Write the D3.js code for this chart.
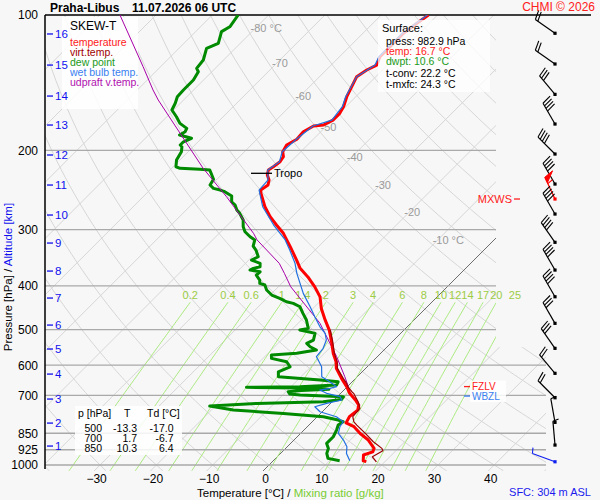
<!doctype html>
<html lang="en">
<head>
<meta charset="utf-8">
<title>skew-T Praha-Libus</title>
<script src="https://cdn.jsdelivr.net/npm/d3@7"></script>
<style>
  body{margin:0;background:#f7f7f7;}
  text{font-family:"Liberation Sans",Arial,sans-serif;}
</style>
</head>
<body>
<div id="chart"></div>
<script>
// axis levels
var pLevels = [100,200,300,400,500,600,700,850,925,1000];
var altKm = [1,2,3,4,5,6,7,8,9,10,11,12,13,14,15,16];
var altP = [907.6,807,713.6,628,552.4,488.7,425.6,370.7,321.2,278.3,238.7,204.7,175.6,151.4,129.2,110.2];
var tTicks = [-30,-20,-10,0,10,20,30,40];
var isoLabT = [-80,-70,-60,-50,-40,-30,-20,-10];
var isoLabP = [106.9,127.8,151.4,177.4,206.8,238.7,274.1,316.3];
var mixRatios = [0.2,0.4,0.6,1,1.4,2,3,4,6,8,10,12,14,17,20,25];

// temperature
var tempP = [100,104.3,109.8,117.6,123.8,129.2,132.5,137.1,144.3,151.9,159.9,165.4,171.2,175.6,176.5,181.7,188.9,194.5,201.3,206.5,211.9,217.4,221.1,226.8,232.7,238.7,244.9,249,266.7,280.7,292.9,305.6,327.3,350.4,365.6,382,402,423,449,476,501,528,565,590,610,642,670,693,717,736,755,781,806,822,851,880,918,935,950,979,983];
var tempT = [-51.6,-52.2,-52.8,-52.8,-52.8,-51.9,-52.8,-53.4,-52.5,-51.6,-50.4,-49.9,-49.9,-50.7,-52.3,-53.1,-52.9,-53.7,-53.2,-52.2,-51.9,-52.2,-52.5,-51.8,-50.6,-49.9,-50.3,-49.7,-46.6,-43.9,-41.3,-38.6,-35.0,-31.5,-29.4,-26.5,-23.5,-20.8,-18.5,-15.8,-13.3,-11.1,-8.4,-6.4,-5.2,-2.5,-0.1,1.6,3.8,5.3,6.0,5.7,6.2,8.3,10.6,13.2,15.7,16.1,15.0,16.0,16.7];

// virtual temperature
var virtP = [501,528,565,590,610,642,658.6,670,687.4,693,723.6,748.5,781,801.6,815.2,850.7,887.9,918.5,929.8,958.7,983.6];
var virtT = [-13.1,-10.9,-8.2,-6.2,-5.0,-2.2,-0.7,0.1,1.7,2.3,4.6,6.1,6.3,7.4,8.5,11.5,14.4,17.1,17.7,16.9,18.5];

// dew point
var dewP = [100,106.2,108.9,115.6,118.6,125.9,131.4,133.7,139.5,146.8,151.9,157.1,162.6,168.3,174.1,178.6,181.7,184.8,187.9,191.3,194.5,196.2,201.3,210,217.4,219.1,220.3,221.1,231.8,238.7,242.8,244.9,247,252.5,260,264.4,271.3,275.9,285.5,295.5,303.1,311,316.1,326.2,332.9,344.5,350.4,356.3,362.6,365.6,368.8,372,378.3,388.1,394.8,398.2,408.5,419.1,426.2,433.7,437.3,445,460.3,476.3,497,501.3,505.7,509.9,527.7,536.7,546,555.3,564.8,569.7,579.4,589.6,605,620.6,636.7,647.5,653.2,664.3,670.1,672.1,675.6,679,683,687.4,695.6,699.1,705.2,714.8,723.6,729.6,739.7,755,767.9,781.3,794.6,801.6,815.2,836.3,865.4,895.3,918.5,942.3,966.7,978.6];
var dewT = [-85.4,-84.8,-85.4,-83.9,-85.1,-83.6,-83.3,-82.4,-81.8,-81.8,-81.7,-80.9,-80.3,-78.3,-76.5,-74.4,-74.1,-74.5,-71.8,-72.6,-72.6,-72.0,-71.2,-70.6,-69.5,-68.5,-64.8,-62.9,-60.6,-60.2,-59.0,-57.5,-56.4,-54.4,-53.4,-52.2,-51.0,-49.9,-48.1,-46.9,-45.7,-43.9,-42.5,-41.7,-40.5,-38.9,-39.5,-37.4,-36.8,-37.7,-38.0,-35.9,-36.0,-34.5,-33.9,-32.7,-31.5,-29.7,-27.7,-25.9,-24.4,-22.6,-20.9,-19.1,-17.3,-18.5,-16.7,-15.2,-14.3,-14.9,-13.7,-12.0,-14.9,-19.1,-18.5,-15.2,-13.7,-14.9,-14.0,-6.0,-2.5,-2.2,-8.4,-17.8,-4.0,-2.8,-7.5,-9.6,-8.9,-6.9,1.1,1.2,-1.6,-13.1,-21.0,-16.1,-6.6,1.1,4.3,5.5,5.2,5.8,6.4,6.4,7.6,8.2,9.3,11.8];

// wet bulb temperature
var wetP = [100,109.8,123.8,129.2,137.1,151.9,159.9,171.2,176.5,188.9,201.3,211.9,221.1,232.7,244.9,266.7,292.9,316.1,332.9,356.3,375,415.5,445,468.3,493,510,527.7,550.5,574.7,584.5,605,636.7,653,670,675.6,681.5,693,705,717,729.6,742.4,761.6,781.3,801.6,822.3,850.7,880.3,910.9,942.3,978.6];
var wetT = [-51.8,-53.0,-53.0,-52.2,-53.4,-51.8,-50.6,-50.1,-52.4,-53.0,-53.3,-52.0,-52.6,-50.8,-50.6,-47.0,-41.8,-37.1,-34.5,-31.2,-29.1,-24.4,-20.8,-18.2,-15.5,-13.4,-12.0,-11.1,-10.8,-9.9,-8.1,-6.3,-4.0,-1.9,-2.8,-4.3,-2.5,0.5,1.4,-0.7,-2.2,-0.4,3.4,5.5,5.8,6.7,8.8,10.6,11.7,13.6];

// updraft virtual temperature
var parcelP = [100,130.3,146.8,154.5,183.2,219.1,253.4,305.6,316.1,356.3,375.1,401.7,484.4,574.7,636.7,670.1,690];
var parcelT = [-106.4,-93.1,-87.2,-84.5,-74.7,-64.4,-55.2,-43.9,-42.1,-34.0,-31.3,-27.8,-16.1,-7.2,-2.2,0.2,1.5];

// wind
var windP = [109.8,128.5,150.1,174.7,203.7,237.5,256.4,276.9,320,368.8,422.8,484.4,550.5,625.6,708.9,804,903,983.6];
var windDir = [305,305,320,330,315,330,335,330,325,330,330,330,325,320,315,350,355,290];
var windSpd = [20,20,30,40,40,40,55,40,40,40,40,30,30,20,20,5,5,5];

// table
var tabP = [500,700,850];
var tabT = [-13.3,1.7,10.3];
var tabTd = [-17.0,-6.7,6.4];

var surfLines = ["press: 982.9 hPa","temp: 16.7 °C","dwpt: 10.6 °C","t-conv: 22.2 °C","t-mxfc: 24.3 °C"];
var tropoP = 224.8, fzlvP = 669.5, wbzlP = 702.8, mxwsP = 256.4;

var W = 600, H = 500;
var L = 45, R1 = 496, R2 = 546, T0 = 15, B = 471, STEP = 347;

var svg = d3.select("#chart").append("svg")
  .attr("width", W).attr("height", H)
  .style("background", "#f7f7f7");

var y = d3.scaleLog().domain([100,1000]).range([15,465]);
var xT = d3.scaleLinear().domain([0,10]).range([269,325.3]);
function sx(t, p){ return xT(t) + y(1000) - y(p); }
var pBot = y.invert(B);

svg.append("clipPath").attr("id","plot")
  .append("path").attr("d","M"+L+","+T0+"H"+R1+"V"+STEP+"H"+R2+"V"+B+"H"+L+"Z");
svg.append("clipPath").attr("id","plotAll")
  .append("rect").attr("x",L).attr("y",T0).attr("width",R2-L).attr("height",B-T0);

var grid = svg.append("g").attr("clip-path","url(#plot)");

// dry adiabats
var adiaPs = d3.range(100, 1040, 10);
d3.range(-40, 210, 10).forEach(function(th){
  var pts = adiaPs.map(function(p){
    return [sx((th+273.15)*Math.pow(p/1000,0.286)-273.15, p), y(p)];
  });
  grid.append("path").attr("d", d3.line()(pts))
    .attr("fill","none").attr("stroke","#d6d6d6").attr("stroke-width",1);
});

// isotherms
d3.range(-120, 60, 10).forEach(function(t){
  grid.append("line")
    .attr("x1", sx(t,pBot)).attr("y1", B)
    .attr("x2", sx(t,100)).attr("y2", T0)
    .attr("stroke", t===0 ? "#6e6e6e" : "#d6d6d6").attr("stroke-width",1);
});

// mixing ratio lines
function tdOf(w, p){
  var e = w*p/(622+w), a = Math.log(e/6.112);
  return 243.5*a/(17.67-a);
}
var mixPs = d3.range(435, 1035, 5);
mixRatios.forEach(function(w){
  var pts = mixPs.map(function(p){ return [sx(tdOf(w,p),p), y(p)]; });
  grid.append("path").attr("d", d3.line()(pts))
    .attr("fill","none").attr("stroke","#a9ea7c").attr("stroke-width",1);
  svg.append("text").attr("x", sx(tdOf(w,435),435)).attr("y", 299)
    .attr("text-anchor","middle").attr("font-size",11).attr("fill","#9ccc44")
    .text(w);
});

// isotherm labels
isoLabT.forEach(function(t,i){
  svg.append("text").attr("x", sx(t,isoLabP[i])-5).attr("y", y(isoLabP[i])+4)
    .attr("font-size",11).attr("fill","#9a9a9a")
    .text(t + (i===0 || i===isoLabT.length-1 ? " °C" : ""));
});

// pressure lines
pLevels.forEach(function(p){
  var xr = p===100 ? 591 : (y(p) < STEP ? R1 : R2);
  svg.append("line").attr("x1",L).attr("x2", xr)
    .attr("y1",y(p)).attr("y2",y(p))
    .attr("stroke", p===100 ? "#000" : "#a9a9a9").attr("stroke-width",1.3);
});
svg.append("line").attr("x1",L).attr("x2",L).attr("y1",T0).attr("y2",469)
  .attr("stroke","#000").attr("stroke-width",1.5);

// legend box (under the altitude ticks)
svg.append("rect").attr("x",62).attr("y",17).attr("width",76).attr("height",92)
  .attr("fill","#fff").attr("opacity",0.85);

// pressure axis
var yAxis = svg.append("g").attr("transform","translate(41,0)")
  .call(d3.axisLeft(y).tickValues(pLevels).tickSize(0).tickFormat(d3.format("d")));
yAxis.select(".domain").remove();
yAxis.selectAll("text").attr("font-size",12).attr("fill","#000")
  .attr("font-family","Liberation Sans, Arial, sans-serif").attr("dx",0);

// altitude ticks
altKm.forEach(function(k,i){
  var yy = y(altP[i]);
  svg.append("line").attr("x1",47).attr("x2",53).attr("y1",yy).attr("y2",yy)
    .attr("stroke","#1010ee").attr("stroke-width",1.3);
  svg.append("text").attr("x",55).attr("y",yy+4).attr("font-size",11.5)
    .attr("fill","#1010ee").text(k);
});

// temperature axis
var xAxisScale = d3.scaleLinear().domain([-30,40]).range([xT(-30)-4, xT(40)-4]);
var xAxis = svg.append("g").attr("transform","translate(0,471)")
  .call(d3.axisBottom(xAxisScale).tickValues(tTicks).tickSize(0).tickFormat(d3.format("d")));
xAxis.select(".domain").remove();
xAxis.selectAll("text").attr("font-size",12).attr("fill","#000")
  .attr("font-family","Liberation Sans, Arial, sans-serif");

// profiles
var prof = svg.append("g").attr("clip-path","url(#plotAll)");
function zipPT(ps, ts){ return ps.map(function(p,i){ return {p:p, t:ts[i]}; }); }
var line = d3.line().x(function(d){ return sx(d.t,d.p); }).y(function(d){ return y(d.p); });
function draw(ps, ts, col, w){
  prof.append("path").datum(zipPT(ps,ts)).attr("d", line)
    .attr("fill","none").attr("stroke",col).attr("stroke-width",w)
    .attr("stroke-linejoin","round");
}
draw(dewP, dewT, "#008a00", 3);
draw(parcelP, parcelT, "#a800a8", 1);
draw(tempP, tempT, "#ff0000", 3);
draw(virtP, virtT, "#990000", 1.2);
draw(wetP, wetT, "#2170e0", 1.2);

// tropopause
svg.append("line").attr("x1",251).attr("x2",272).attr("y1",y(tropoP)).attr("y2",y(tropoP))
  .attr("stroke","#000").attr("stroke-width",1.3);
svg.append("text").attr("x",274).attr("y",y(tropoP)+4).attr("font-size",11).text("Tropo");

// legend text
svg.append("text").attr("x",70).attr("y",29.5).attr("font-size",12).text("SKEW-T");
var legNames = ["temperature","virt.temp.","dew point","wet bulb temp.","udpraft v.temp."];
var legCols = ["#ff2020","#a00000","#1a9a1a","#3a7ff0","#b010b0"];
legNames.forEach(function(n,i){
  svg.append("text").attr("x",70).attr("y",46+i*10).attr("font-size",10.5)
    .attr("fill",legCols[i]).text(n);
});

// surface box
svg.append("rect").attr("x",378).attr("y",20).attr("width",112).attr("height",72)
  .attr("fill","#fff").attr("opacity",0.75);
svg.append("text").attr("x",382).attr("y",32).attr("font-size",11).text("Surface:");
var surfY = [44.5,54.5,64.5,77,88];
var surfCol = ["#000","#ff2020","#1a9a1a","#000","#000"];
surfLines.forEach(function(s,i){
  svg.append("text").attr("x",386).attr("y",surfY[i]).attr("font-size",10.5)
    .attr("fill",surfCol[i]).text(s);
});

// table box
svg.append("rect").attr("x",75).attr("y",406).attr("width",107).attr("height",49)
  .attr("fill","#fff").attr("opacity",0.85);
svg.append("text").attr("x",78).attr("y",417).attr("font-size",10.5).text("p [hPa]");
svg.append("text").attr("x",124).attr("y",417).attr("font-size",10.5).text("T");
svg.append("text").attr("x",147).attr("y",417).attr("font-size",10.5).text("Td [°C]");
tabP.forEach(function(p,i){
  var yy = 432 + i*10;
  svg.append("text").attr("x",102).attr("y",yy).attr("text-anchor","end").attr("font-size",10.5).text(p);
  svg.append("text").attr("x",137).attr("y",yy).attr("text-anchor","end").attr("font-size",10.5).text(tabT[i].toFixed(1));
  svg.append("text").attr("x",173.5).attr("y",yy).attr("text-anchor","end").attr("font-size",10.5).text(tabTd[i].toFixed(1));
});

// freezing / wet bulb zero levels
svg.append("rect").attr("x",470).attr("y",y(fzlvP)-6).attr("width",36).attr("height",y(wbzlP)-y(fzlvP)+12)
  .attr("fill","#fff").attr("opacity",0.85);
svg.append("line").attr("x1",464).attr("x2",470).attr("y1",y(fzlvP)).attr("y2",y(fzlvP))
  .attr("stroke","#ff2020").attr("stroke-width",1.3);
svg.append("text").attr("x",472).attr("y",y(fzlvP)+3.5).attr("font-size",10).attr("fill","#ff2020").text("FZLV");
svg.append("line").attr("x1",464).attr("x2",470).attr("y1",y(wbzlP)).attr("y2",y(wbzlP))
  .attr("stroke","#3a7ff0").attr("stroke-width",1.3);
svg.append("text").attr("x",472).attr("y",y(wbzlP)+4).attr("font-size",10).attr("fill","#3a7ff0").text("WBZL");

// max wind
svg.append("text").attr("x",512).attr("y",y(mxwsP)+4).attr("text-anchor","end")
  .attr("font-size",11).attr("fill","#ff2020").text("MXWS");
svg.append("line").attr("x1",514).attr("x2",520).attr("y1",y(mxwsP)).attr("y2",y(mxwsP))
  .attr("stroke","#ff2020").attr("stroke-width",1.3);

// wind barbs
function barb(x0, y0, dir, spd, col){
  var g = svg.append("g").attr("stroke",col).attr("fill",col);
  var len = 24, rad = dir*Math.PI/180;
  var ux = Math.sin(rad), uy = -Math.cos(rad);
  var tx = x0+ux*len, ty = y0+uy*len;
  var a = 75*Math.PI/180;
  var fx = ux*Math.cos(a)-uy*Math.sin(a), fy = ux*Math.sin(a)+uy*Math.cos(a);
  g.append("line").attr("x1",x0).attr("y1",y0).attr("x2",tx).attr("y2",ty).attr("stroke-width",1.2);
  var rem = Math.round(spd/5)*5, pos = 0;
  while(rem >= 50){
    var bx = tx-ux*pos, by = ty-uy*pos;
    g.append("path").attr("d","M"+bx+","+by+"L"+(bx+fx*10)+","+(by+fy*10)+"L"+(bx-ux*6)+","+(by-uy*6)+"Z")
      .attr("stroke-width",1);
    pos += 7; rem -= 50;
  }
  while(rem >= 10){
    var cx = tx-ux*pos, cy = ty-uy*pos;
    g.append("line").attr("x1",cx).attr("y1",cy).attr("x2",cx+fx*10).attr("y2",cy+fy*10).attr("stroke-width",1.1);
    pos += 3; rem -= 10;
  }
  if(rem >= 5){
    var hx = tx-ux*pos, hy = ty-uy*pos;
    g.append("line").attr("x1",hx).attr("y1",hy).attr("x2",hx+fx*6).attr("y2",hy+fy*6).attr("stroke-width",1.1);
  }
  g.append("rect").attr("x",x0-1.6).attr("y",y0-1.6).attr("width",3.2).attr("height",3.2).attr("stroke","none");
}
windP.forEach(function(p,i){
  var col = p===mxwsP ? "#ff0000" : (i===windP.length-1 ? "#1020ee" : "#000");
  barb(555, y(p), windDir[i], windSpd[i], col);
});

// titles
svg.append("text").attr("x",50).attr("y",12).attr("font-size",12).attr("font-weight","bold").text("Praha-Libus");
svg.append("text").attr("x",132).attr("y",12).attr("font-size",12).attr("font-weight","bold").text("11.07.2026 06 UTC");
svg.append("text").attr("x",595).attr("y",11).attr("text-anchor","end").attr("font-size",12)
  .attr("fill","#ff2020").text("CHMI © 2026");

var xt = svg.append("text").attr("x",197).attr("y",497).attr("font-size",11.5);
xt.append("tspan").text("Temperature [°C]  /  ");
xt.append("tspan").attr("fill","#77cc33").text("Mixing ratio [g/kg]");

svg.append("text").attr("x",591).attr("y",496).attr("text-anchor","end").attr("font-size",11)
  .attr("fill","#1a1aee").text("SFC: 304 m ASL");

var yt = svg.append("text").attr("transform","translate(12,277) rotate(-90)")
  .attr("text-anchor","middle").attr("font-size",11.5);
yt.append("tspan").text("Pressure [hPa]  /  ");
yt.append("tspan").attr("fill","#1010ee").text("Altitude [km]");
</script>
</body>
</html>
